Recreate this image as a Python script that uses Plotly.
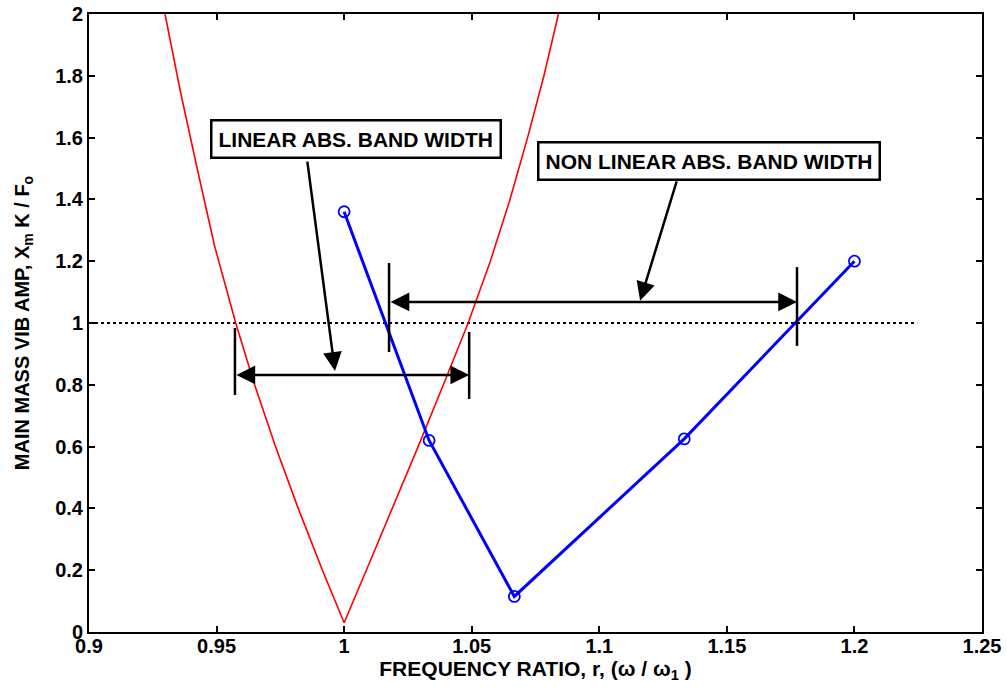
import plotly.graph_objects as go

# ---- data ----
# linear absorber response (red)
lin_r = [0.9298, 0.9358, 0.9424, 0.9492, 0.9575, 0.9649, 0.9731, 0.9820, 0.9915, 1.0000,
         1.0087, 1.0189, 1.0290, 1.0389, 1.0486, 1.0573, 1.0650, 1.0719, 1.0783, 1.0840]
lin_amp = [2.00, 1.75, 1.50, 1.25, 1.00, 0.80, 0.60, 0.40, 0.20, 0.03,
           0.20, 0.40, 0.60, 0.80, 1.00, 1.20, 1.40, 1.60, 1.80, 2.00]
# nonlinear absorber response (blue)
nl_r = [1.0, 1.0333, 1.0667, 1.1333, 1.2]
nl_amp = [1.36, 0.62, 0.115, 0.625, 1.20]
# reference level
ref_r = [0.9, 1.2246]
ref_amp = [1.0, 1.0]
# band widths
lin_band = [0.9572, 1.049]
lin_band_y = 0.832
nl_band = [1.0176, 1.1775]
nl_band_y = 1.068

x_ticks = [0.9, 0.95, 1.0, 1.05, 1.1, 1.15, 1.2, 1.25]
x_tick_text = ["0.9", "0.95", "1", "1.05", "1.1", "1.15", "1.2", "1.25"]
y_ticks = [0, 0.2, 0.4, 0.6, 0.8, 1.0, 1.2, 1.4, 1.6, 1.8, 2.0]
y_tick_text = ["0", "0.2", "0.4", "0.6", "0.8", "1", "1.2", "1.4", "1.6", "1.8", "2"]

FONT = "Liberation Sans, Arial, Helvetica, sans-serif"

fig = go.Figure()
fig.add_trace(go.Scatter(x=ref_r, y=ref_amp, mode="lines",
                         line=dict(color="black", width=2, dash="dot"), showlegend=False))
fig.add_trace(go.Scatter(x=lin_r, y=lin_amp, mode="lines",
                         line=dict(color="#ff0000", width=1.6), showlegend=False))
fig.add_trace(go.Scatter(x=nl_r, y=nl_amp, mode="lines+markers",
                         line=dict(color="#0000ff", width=3),
                         marker=dict(symbol="circle-open", size=11, color="#0000ff",
                                     line=dict(width=1.8, color="#0000ff")),
                         showlegend=False))

# band end bars
bars = [
    (lin_band[0], 0.767, 0.984),
    (lin_band[1], 0.754, 0.971),
    (nl_band[0], 0.906, 1.194),
    (nl_band[1], 0.926, 1.181),
]
for bx, y0, y1 in bars:
    fig.add_shape(type="line", x0=bx, x1=bx, y0=y0, y1=y1, xref="x", yref="y",
                  line=dict(color="black", width=2.5))

# double arrows
for (a, b), yy in [(lin_band, lin_band_y), (nl_band, nl_band_y)]:
    fig.add_annotation(x=b, y=yy, ax=a, ay=yy, xref="x", yref="y", axref="x", ayref="y",
                       text="", showarrow=True, arrowside="end+start", arrowhead=2,
                       arrowsize=1.5, arrowwidth=2.5, arrowcolor="black",
                       startarrowhead=2, startarrowsize=1.5)

# pointer arrows
pointers = [
    ((0.9855, 1.527), (0.9964, 0.845)),
    ((1.1305, 1.463), (1.116, 1.072)),
]
for (tx, ty), (hx, hy) in pointers:
    fig.add_annotation(x=hx, y=hy, ax=tx, ay=ty, xref="x", yref="y", axref="x", ayref="y",
                       text="", showarrow=True, arrowhead=2, arrowsize=1.5,
                       arrowwidth=2.5, arrowcolor="black")

# label boxes
labels = [
    ("LINEAR ABS. BAND WIDTH", 1.0048, 1.595),
    ("NON LINEAR ABS. BAND WIDTH", 1.1431, 1.525),
]
for txt, lx, ly in labels:
    fig.add_annotation(x=lx, y=ly, xref="x", yref="y", text=txt, showarrow=False,
                       font=dict(family=FONT, size=21, color="black", weight="bold"),
                       bordercolor="black", borderwidth=2.5, borderpad=6,
                       bgcolor="white")

axis_common = dict(showline=True, linecolor="black", linewidth=2, mirror="ticks",
                   ticks="inside", ticklen=6, tickwidth=1.5, tickcolor="black",
                   showgrid=False, zeroline=False, automargin=False,
                   ticklabeloverflow="allow",
                   tickfont=dict(family=FONT, size=20, color="black", weight="bold"))

fig.update_xaxes(range=[0.9, 1.25], tickvals=x_ticks, ticktext=x_tick_text,
                 ticklabelstandoff=-5,
                 title=dict(text="FREQUENCY RATIO, r, (ω / ω<sub>1</sub> )",
                            font=dict(family=FONT, size=21, color="black", weight="bold"),
                            standoff=4),
                 **axis_common)
fig.update_yaxes(range=[0, 2], tickvals=y_ticks, ticktext=y_tick_text,
                 title=dict(text="MAIN MASS VIB AMP, X<sub>m</sub> K / F<sub>o</sub>",
                            font=dict(family=FONT, size=20, color="black", weight="bold"),
                            standoff=20),
                 **axis_common)

fig.update_layout(width=1007, height=693, plot_bgcolor="white", paper_bgcolor="white",
                  margin=dict(l=89, r=25, t=14, b=61), showlegend=False)

# remove the default page margin so the 1007x693 figure fills the window exactly
fig.write_html("out.html", config={"displayModeBar": False},
               post_script="document.body.style.margin='0';document.body.style.overflow='hidden';")
